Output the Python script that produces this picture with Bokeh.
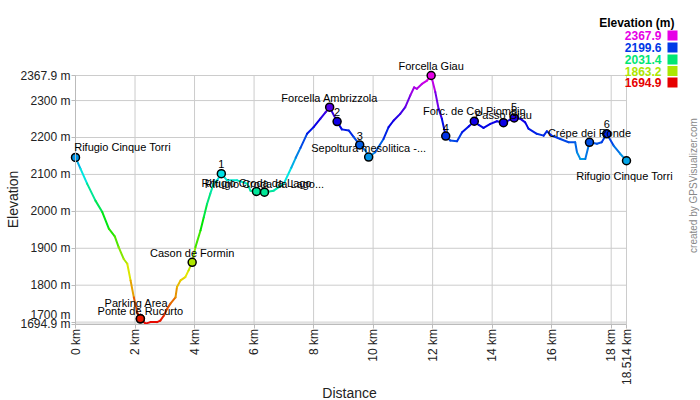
import math
import colorsys
from bokeh.plotting import figure
from bokeh.models import Range1d, FixedTicker, ColumnDataSource, LabelSet, Label, BoxAnnotation
from bokeh.core.properties import value
from bokeh.embed import file_html
from bokeh.resources import INLINE

# ---------------- data ----------------
dist_km = [0.00, 0.17, 0.39, 0.67, 0.90, 1.12, 1.32, 1.45, 1.62, 1.74, 1.85, 1.96, 2.07, 2.18,
           2.35, 2.52, 2.74, 2.85, 2.97, 3.08, 3.19, 3.36, 3.41, 3.53, 3.69, 3.80, 3.92, 4.03,
           4.20, 4.31, 4.42, 4.53, 4.64, 4.76, 4.90, 5.09, 5.43, 5.77, 5.88, 6.08, 6.35, 6.66,
           7.00, 7.25, 7.40, 7.56, 7.78, 8.00, 8.23, 8.40, 8.54, 8.79, 8.95, 9.18, 9.35, 9.55,
           9.74, 9.85, 10.07, 10.35, 10.52, 10.69, 10.91, 11.08, 11.25, 11.38, 11.47, 11.64,
           11.81, 11.95, 12.09, 12.20, 12.31, 12.44, 12.59, 12.82, 12.99, 13.21, 13.40, 13.55,
           13.71, 13.94, 14.16, 14.38, 14.74, 14.94, 15.11, 15.22, 15.50, 15.73, 15.84, 16.00,
           16.29, 16.57, 16.79, 16.85, 16.96, 17.13, 17.27, 17.52, 17.68, 17.85, 18.08, 18.30,
           18.514]
elev_m = [2146, 2115, 2075, 2029, 1998, 1953, 1932, 1903, 1871, 1858, 1813, 1767, 1727, 1709,
          1696, 1700, 1700, 1704, 1718, 1736, 1750, 1767, 1795, 1813, 1822, 1840, 1862, 1903,
          1948, 1984, 2020, 2048, 2075, 2084, 2102, 2084, 2084, 2075, 2056, 2054, 2052, 2056,
          2075, 2118, 2145, 2172, 2210, 2228, 2251, 2268, 2282, 2243, 2222, 2219, 2201, 2180,
          2165, 2147, 2160, 2196, 2228, 2246, 2264, 2282, 2314, 2336, 2332, 2345,
          2354, 2367.9, 2323, 2278, 2251, 2204, 2192, 2190, 2214, 2230, 2244, 2234,
          2226, 2237, 2244, 2240, 2253, 2251, 2241, 2224, 2210, 2205, 2217, 2205,
          2196, 2187, 2187, 2160, 2142, 2142, 2187, 2183, 2187, 2210, 2178, 2156,
          2137]

wp_names = ["Rifugio Cinque Torri", "Parking Area", "Ponte de Rucurto", "Cason de Formin", "1",
            "Rifugio Croda da Lago", "Rifugio Croda da Lago...", "Forcella Ambrizzola", "2", "3",
            "Sepoltura mesolitica -...", "Forcella Giau", "4", "Forc. de Col Piombin",
            "Passo Giau", "5", "Crépe dei Ronde", "6", "Rifugio Cinque Torri"]
wp_km = [0.0, 2.18, 2.18, 3.92, 4.90, 6.08, 6.35, 8.54, 8.79, 9.55, 9.85, 11.95, 12.44, 13.40,
         14.38, 14.74, 17.27, 17.85, 18.514]
wp_elev = [2146, 1709, 1709, 1862, 2102, 2054, 2052, 2282, 2243, 2180, 2147, 2367.9, 2204, 2244,
           2240, 2253, 2187, 2210, 2137]

x_ticks = [0, 2, 4, 6, 8, 10, 12, 14, 16, 18, 18.514]
x_tick_labels = ["0 km", "2 km", "4 km", "6 km", "8 km", "10 km", "12 km", "14 km", "16 km",
                 "18 km", "18.514 km"]
y_ticks = [1694.9, 1700, 1800, 1900, 2000, 2100, 2200, 2300, 2367.9]
y_tick_labels = ["1694.9 m", "1700 m", "1800 m", "1900 m", "2000 m", "2100 m", "2200 m",
                 "2300 m", "2367.9 m"]
legend_values = [2367.9, 2199.6, 2031.4, 1863.2, 1694.9]

# ---------------- layout / style (not data) ----------------
label_dx = [47, -4, 0, 0, 0, 0, 0, 0, 0, 0, 0, 0, 0, 0, 0, 0, 0, 0, -2]
label_dy = [10, 16, 8, 9.5, 10, 8, 8, 9, 10, 9, 9, 10, 8.5, 10, 8, 11, 9, 10, -15]

FONT = "Liberation Sans"
W, H = 700, 400
PL, PR, PT, PB = 75.0, 626.0, 75.0, 323.5   # plot-area edges in canvas pixels
XMIN, XMAX = 0.0, x_ticks[-1]
EMIN, EMAX = min(legend_values), max(legend_values)

# the frame spans the whole canvas; ranges are widened so that the
# data area lands on the plot-area edges above
kx = (PR - PL) / (XMAX - XMIN)
ky = (PB - PT) / (EMAX - EMIN)
x_range = Range1d(XMIN - PL / kx, XMAX + (W - PR) / kx)
y_range = Range1d(EMIN - (H - PB) / ky, EMAX + PT / ky)


def elev_color(e):
    f = (e - EMIN) / (EMAX - EMIN)
    f = max(0.0, min(1.0, f))
    r, g, b = colorsys.hsv_to_rgb(300.0 * f / 360.0, 1.0, 0.9)
    return "#%02x%02x%02x" % (int(round(r * 255)), int(round(g * 255)), int(round(b * 255)))


p = figure(width=W, height=H, x_range=x_range, y_range=y_range,
           output_backend="svg", toolbar_location=None,
           min_border_left=0, min_border_right=0, min_border_top=0, min_border_bottom=0)
p.outline_line_color = None
p.background_fill_color = "white"
p.border_fill_color = "white"
p.xgrid.visible = False
p.ygrid.visible = False

GRID = "#cccccc"
AXIS = "#bbbbbb"

xa = p.xaxis[0]
xa.ticker = FixedTicker(ticks=x_ticks)
xa.major_label_overrides = {t: s for t, s in zip(x_ticks, x_tick_labels)}
xa.major_label_orientation = math.pi / 2
xa.fixed_location = EMIN
xa.bounds = (XMIN, XMAX)

ya = p.yaxis[0]
ya.ticker = FixedTicker(ticks=y_ticks)
overrides = {t: s for t, s in zip(y_ticks, y_tick_labels)}
overrides[1700] = ""
ya.major_label_overrides = overrides
ya.fixed_location = XMIN
ya.bounds = (EMIN, EMAX)

for ax in (xa, ya):
    ax.axis_line_color = AXIS
    ax.major_tick_line_color = AXIS
    ax.major_tick_in = 0
    ax.major_tick_out = 4
    ax.minor_tick_line_color = None
    ax.major_label_text_font = FONT
    ax.major_label_text_font_size = "12px"
    ax.major_label_text_color = "#222222"
    ax.major_label_standoff = 1

# grid lines, at the same ticks as the axes, limited to the plot area
p.segment(x0=x_ticks, y0=[EMIN] * len(x_ticks), x1=x_ticks, y1=[EMAX] * len(x_ticks),
          line_color=GRID, line_width=1)
p.segment(x0=[XMIN] * len(y_ticks), y0=y_ticks, x1=[XMAX] * len(y_ticks), y1=y_ticks,
          line_color=GRID, line_width=1)


def add_text(cx, cy, text, **kw):
    # cx, cy: canvas pixels (y down); frame == canvas, screen y counts up
    opts = dict(x_units="screen", y_units="screen", text_font=FONT, text_font_size="12px",
                text_color="#222222", text_align="center", text_baseline="middle")
    opts.update(kw)
    p.add_layout(Label(x=cx, y=H - cy, text=text, **opts))


# axis titles
add_text(12, 199, "Elevation", angle=math.pi / 2, text_font_size="14px")
add_text(349, 392, "Distance", text_font_size="14px")

# shifted "1700 m" tick label (avoids overlap with 1694.9 m)
p.add_layout(Label(x=PL - 5, x_units="screen", y=1700, y_units="data", y_offset=7,
                   text=y_tick_labels[1], text_align="right", text_baseline="middle",
                   text_font=FONT, text_font_size="12px", text_color="#222222"))

# elevation profile coloured by height
seg_colors = [elev_color((a + b) / 2.0) for a, b in zip(elev_m[:-1], elev_m[1:])]
p.segment(x0=dist_km[:-1], y0=elev_m[:-1], x1=dist_km[1:], y1=elev_m[1:],
          line_color=seg_colors, line_width=2, line_cap="round")

# waypoints
wp_src = ColumnDataSource(dict(x=wp_km, y=wp_elev, name=wp_names, dx=label_dx, dy=label_dy,
                               c=[elev_color(e) for e in wp_elev]))
p.scatter("x", "y", source=wp_src, size=8, fill_color="c", line_color="black", line_width=1.5)
p.add_layout(LabelSet(x="x", y="y", text="name", x_offset="dx", y_offset="dy", source=wp_src,
                      text_align="center", text_baseline="middle", text_font=value(FONT),
                      text_font_size="11px", text_color="black"))

# legend (top right)
add_text(674, 22.7, "Elevation (m)", text_align="right", text_font_style="bold",
         text_color="black")
leg_y = [35, 47, 59, 70.5, 82]
for v, yy in zip(legend_values, leg_y):
    col = elev_color(v)
    add_text(661, yy, "%.1f" % v, text_align="right", text_font_style="bold", text_color=col)
    p.add_layout(BoxAnnotation(left=667, right=677, bottom=H - yy - 5, top=H - yy + 5,
                               left_units="screen", right_units="screen",
                               bottom_units="screen", top_units="screen",
                               fill_color=col, fill_alpha=1.0, line_color=None))

# credit
add_text(693, 185, "created by GPSVisualizer.com", angle=math.pi / 2,
         text_font_size="10px", text_color="#888888")

open("out.html", "w").write(file_html(p, INLINE))
